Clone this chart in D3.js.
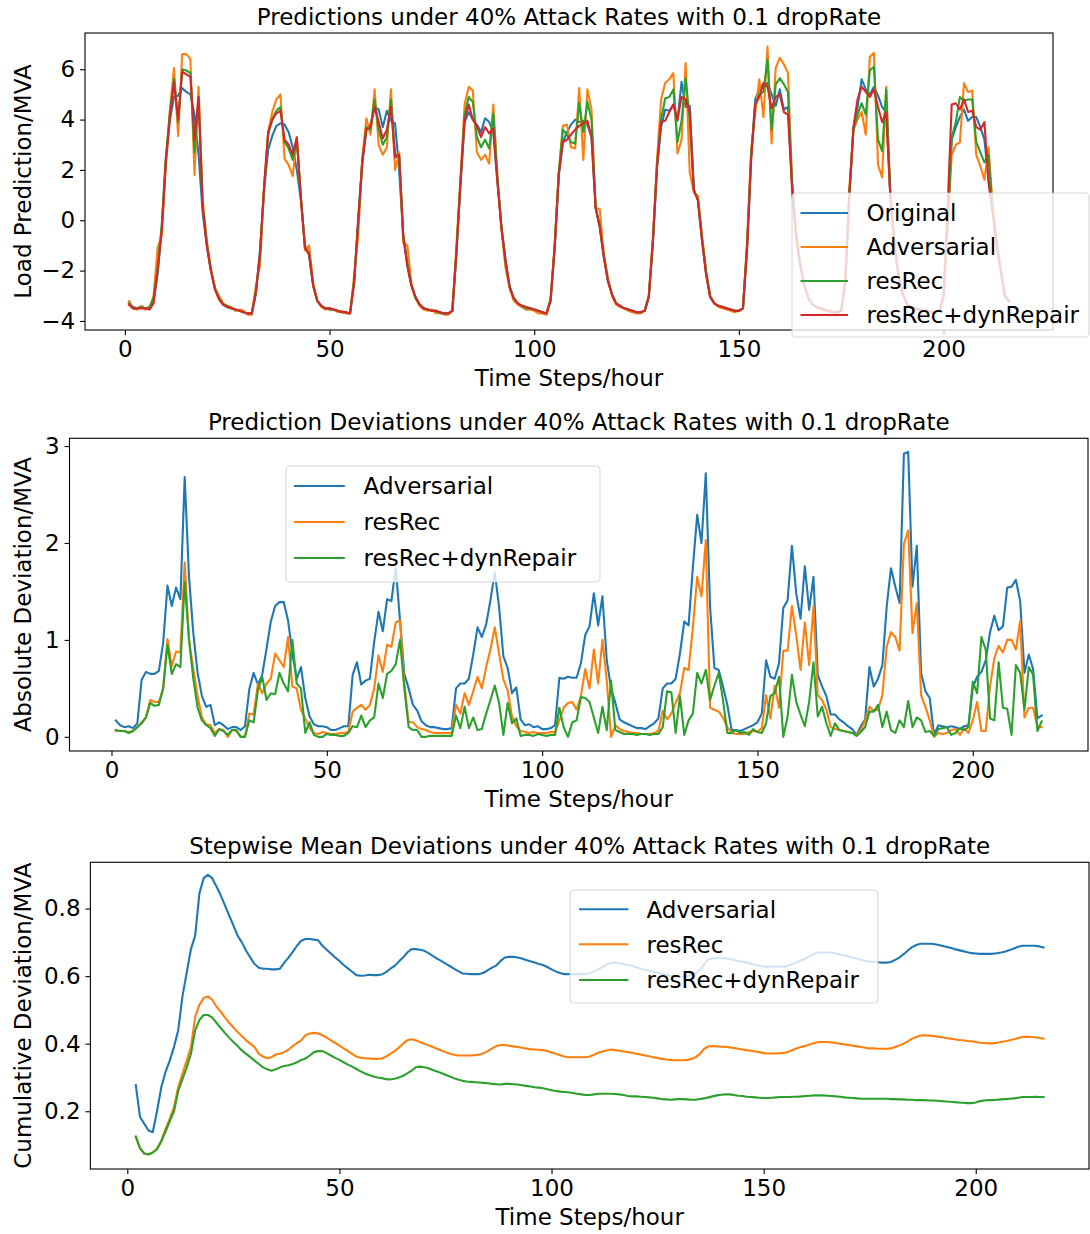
<!DOCTYPE html>
<html>
<head>
<meta charset="utf-8">
<script src="https://cdnjs.cloudflare.com/ajax/libs/d3/7.8.5/d3.min.js"></script>
<style>
body { margin: 0; background: #fff; }
svg text { font-family: "DejaVu Sans", sans-serif; fill: #000; }
</style>
</head>
<body>
<div id="chart"></div>
<script>
// time axis
const steps = d3.range(1, 217);
const cumSteps = d3.range(2, 217);
const xTicks = [0, 50, 100, 150, 200];
const yTicksPred = [-4, -2, 0, 2, 4, 6];
const yTicksDev = [0, 1, 2, 3];
const yTicksCum = [0.2, 0.4, 0.6, 0.8];

// panel 1: load predictions
const original = [-3.3,-3.45,-3.5,-3.45,-3.5,-3.5,-3.2,-2.1,-0.3,2.4,
  4.0,4.9,4.95,5.25,5.1,5.0,4.2,2.6,0.3,-1.0,
  -2.0,-2.7,-3.1,-3.35,-3.45,-3.5,-3.55,-3.6,-3.65,-3.7,
  -3.7,-2.9,-1.2,1.2,2.8,3.35,3.75,3.85,3.8,3.5,
  2.9,2.0,0.8,-1.0,-1.4,-2.6,-3.2,-3.4,-3.5,-3.5,
  -3.55,-3.6,-3.65,-3.65,-3.7,-2.5,0.1,2.3,3.6,3.8,
  4.5,4.4,3.7,4.35,3.95,3.85,2.0,-0.6,-1.8,-2.6,
  -3.05,-3.35,-3.5,-3.55,-3.6,-3.6,-3.65,-3.7,-3.7,-3.6,
  -1.3,1.5,3.9,4.3,4.0,3.8,3.5,4.05,3.9,3.5,
  1.6,-0.25,-1.6,-2.65,-3.1,-3.3,-3.4,-3.45,-3.5,-3.55,
  -3.6,-3.65,-3.7,-3.2,-1.1,1.8,3.1,3.5,3.8,4.0,
  3.9,3.95,3.8,3.3,0.5,-0.25,-1.45,-2.4,-2.95,-3.3,
  -3.4,-3.5,-3.55,-3.6,-3.65,-3.65,-3.6,-3.05,-0.85,2.1,
  3.7,4.4,4.35,4.6,3.95,5.5,4.5,4.55,1.2,0.8,
  -0.8,-2.15,-3.05,-3.3,-3.4,-3.45,-3.5,-3.55,-3.6,-3.6,
  -3.5,-1.05,2.5,4.8,5.2,5.4,5.45,5.0,4.55,5.2,
  4.4,4.5,1.3,-0.7,-1.8,-2.6,-3.1,-3.35,-3.45,-3.5,
  -3.55,-3.6,-3.65,-3.65,-3.6,-2.5,1.0,3.7,4.5,5.6,
  5.2,5.0,5.3,4.95,4.5,4.3,1.0,-1.0,-2.2,-2.9,
  -3.3,-3.45,-3.5,-3.55,-3.6,-3.6,-3.65,-3.65,-3.6,-3.0,
  -0.25,3.2,3.7,4.1,4.4,3.95,4.1,4.1,3.7,3.2,
  1.6,0.5,-1.0,-2.0,-3.05,-3.2];
const adversarial = [-3.2,-3.5,-3.55,-3.4,-3.55,-3.5,-3.0,-1.1,-0.6,2.2,
  4.4,6.05,3.35,6.6,6.6,6.4,1.8,5.3,0.8,-0.8,
  -1.9,-2.7,-3.0,-3.3,-3.4,-3.45,-3.6,-3.55,-3.6,-3.75,
  -3.75,-2.6,-1.8,1.3,3.5,4.3,4.8,5.0,2.45,2.2,
  1.75,3.3,0.9,-1.2,-1.0,-2.5,-3.2,-3.45,-3.55,-3.5,
  -3.55,-3.65,-3.6,-3.7,-3.7,-2.2,-0.6,2.5,4.05,3.4,
  5.2,3.0,2.6,2.9,5.2,2.0,2.7,-0.9,-1.0,-2.5,
  -3.1,-3.4,-3.55,-3.6,-3.55,-3.7,-3.65,-3.75,-3.75,-3.6,
  -1.0,1.7,4.6,5.3,5.15,2.7,2.4,2.6,2.25,4.6,
  1.8,-0.4,-1.9,-2.7,-3.2,-3.35,-3.45,-3.55,-3.55,-3.6,
  -3.7,-3.7,-3.75,-3.1,-1.0,1.9,3.75,3.8,2.9,2.85,
  5.25,2.4,5.2,4.4,0.5,0.45,-1.3,-2.3,-3.0,-3.35,
  -3.45,-3.5,-3.6,-3.65,-3.7,-3.7,-3.6,-3.0,-0.7,2.4,
  4.8,5.45,5.6,5.85,2.65,3.2,6.25,1.9,1.1,0.95,
  -0.6,-2.0,-3.0,-3.3,-3.45,-3.5,-3.55,-3.6,-3.65,-3.6,
  -3.5,-0.9,2.8,4.3,5.6,4.1,6.9,3.05,6.05,6.45,
  6.2,5.85,1.5,-0.4,-1.7,-2.6,-3.1,-3.35,-3.45,-3.55,
  -3.6,-3.6,-3.65,-3.7,-3.6,-2.3,1.3,3.6,4.0,4.3,
  3.4,6.5,6.65,2.2,1.7,5.3,1.0,-0.8,-2.1,-2.9,
  -3.3,-3.45,-3.5,-3.55,-3.6,-3.65,-3.6,-3.7,-3.6,-3.1,
  -0.3,2.6,3.0,3.1,5.45,5.1,5.15,2.6,2.15,1.6,
  2.9,0.6,-0.8,-2.0,-3.0,-3.25];
const resRec = [-3.3,-3.5,-3.5,-3.45,-3.5,-3.45,-3.1,-1.9,-0.2,2.5,
  4.3,5.6,3.9,6.0,5.95,5.85,2.7,4.8,0.6,-0.9,
  -2.0,-2.7,-3.1,-3.35,-3.4,-3.5,-3.55,-3.6,-3.65,-3.7,
  -3.7,-2.8,-1.4,1.3,3.4,4.0,4.35,4.5,3.1,2.85,
  2.4,3.2,0.9,-1.1,-1.3,-2.6,-3.2,-3.4,-3.5,-3.55,
  -3.55,-3.6,-3.65,-3.65,-3.7,-2.4,-0.1,2.4,3.7,3.6,
  4.8,3.6,3.0,3.3,4.8,2.6,2.6,-0.6,-1.7,-2.6,
  -3.1,-3.35,-3.5,-3.55,-3.6,-3.6,-3.7,-3.7,-3.7,-3.6,
  -1.2,1.6,4.2,4.9,4.7,3.3,2.9,3.2,2.85,4.25,
  1.7,-0.3,-1.7,-2.65,-3.1,-3.3,-3.4,-3.5,-3.5,-3.55,
  -3.6,-3.65,-3.7,-3.15,-1.0,1.85,3.6,3.4,3.1,3.05,
  4.65,3.5,4.7,4.0,0.5,-0.2,-1.4,-2.4,-2.95,-3.3,
  -3.4,-3.5,-3.55,-3.6,-3.65,-3.65,-3.6,-3.0,-0.8,2.2,
  4.0,4.85,4.9,5.2,3.1,3.95,5.65,4.0,1.2,0.8,
  -0.7,-2.1,-3.05,-3.3,-3.4,-3.45,-3.5,-3.55,-3.6,-3.6,
  -3.5,-1.0,2.6,4.6,5.0,5.1,6.4,3.6,5.4,5.65,
  5.4,5.1,1.5,-0.6,-1.8,-2.6,-3.1,-3.35,-3.45,-3.5,
  -3.55,-3.6,-3.65,-3.65,-3.6,-2.4,1.1,3.6,4.2,4.65,
  4.2,5.95,6.1,3.2,2.75,5.2,1.0,-0.9,-2.2,-2.9,
  -3.3,-3.45,-3.5,-3.55,-3.6,-3.6,-3.65,-3.65,-3.6,-3.0,
  -0.3,3.3,3.9,4.9,4.75,4.8,4.8,3.1,2.7,2.3,
  2.6,0.4,-1.0,-2.0,-3.0,-3.2];
const resRecDyn = [-3.35,-3.5,-3.5,-3.5,-3.5,-3.55,-3.3,-2.0,-0.4,2.3,
  4.1,5.5,4.0,5.9,5.8,5.7,3.2,4.9,0.5,-1.0,
  -2.0,-2.75,-3.15,-3.35,-3.45,-3.5,-3.55,-3.6,-3.65,-3.7,
  -3.7,-2.9,-1.3,1.3,3.5,4.0,4.25,4.35,3.2,3.0,
  2.6,3.3,0.85,-1.1,-1.35,-2.6,-3.2,-3.4,-3.5,-3.5,
  -3.55,-3.6,-3.65,-3.65,-3.7,-2.5,0.0,2.3,3.6,3.7,
  4.5,3.9,3.25,3.6,4.5,2.5,2.6,-0.6,-1.8,-2.6,
  -3.05,-3.35,-3.5,-3.55,-3.6,-3.6,-3.65,-3.7,-3.7,-3.6,
  -1.3,1.5,4.0,4.6,4.0,3.75,3.3,3.7,3.45,3.65,
  1.5,-0.3,-1.6,-2.65,-3.1,-3.3,-3.4,-3.45,-3.5,-3.55,
  -3.6,-3.65,-3.7,-3.2,-1.1,1.8,3.1,3.2,3.4,3.6,
  3.75,3.85,3.95,3.3,0.5,-0.25,-1.45,-2.4,-2.95,-3.3,
  -3.4,-3.5,-3.55,-3.6,-3.65,-3.65,-3.6,-3.05,-0.85,2.1,
  3.9,3.95,4.3,4.6,4.0,4.9,4.8,4.3,1.2,0.8,
  -0.8,-2.15,-3.05,-3.3,-3.4,-3.45,-3.5,-3.55,-3.6,-3.6,
  -3.5,-1.2,2.4,4.6,4.9,5.45,5.3,4.45,4.9,5.0,
  4.3,4.2,1.3,-0.7,-1.8,-2.6,-3.1,-3.35,-3.45,-3.5,
  -3.55,-3.6,-3.65,-3.65,-3.6,-2.5,1.0,3.7,4.8,5.3,
  5.1,4.9,5.2,4.5,3.9,4.3,1.0,-1.0,-2.2,-2.9,
  -3.3,-3.45,-3.5,-3.55,-3.6,-3.6,-3.65,-3.65,-3.6,-3.0,
  0.5,4.6,4.65,4.4,4.8,4.3,4.35,3.7,3.6,3.9,
  1.5,0.3,-1.0,-2.0,-3.0,-3.2];

// panel 2: absolute deviations
const devAdv = [0.17,0.12,0.1,0.11,0.09,0.14,0.59,0.67,0.65,0.65,
  0.68,0.97,1.56,1.35,1.54,1.42,2.68,1.65,1.07,0.66,
  0.42,0.31,0.33,0.12,0.15,0.12,0.08,0.1,0.1,0.07,
  0.11,0.49,0.66,0.54,0.64,0.91,1.19,1.35,1.39,1.39,
  1.2,0.86,0.6,0.72,0.4,0.21,0.13,0.11,0.11,0.1,
  0.07,0.07,0.09,0.11,0.11,0.64,0.77,0.54,0.58,0.6,
  0.98,1.29,1.09,1.42,1.4,1.75,1.2,0.65,0.5,0.33,
  0.27,0.16,0.12,0.1,0.1,0.09,0.08,0.08,0.09,0.5,
  0.55,0.55,0.6,0.85,1.13,1.03,1.16,1.41,1.7,1.34,
  0.83,0.71,0.45,0.51,0.18,0.12,0.13,0.1,0.11,0.08,
  0.08,0.09,0.12,0.61,0.6,0.62,0.61,0.61,0.76,1.05,
  1.14,1.48,1.15,1.45,0.79,0.5,0.35,0.18,0.15,0.13,
  0.11,0.09,0.09,0.08,0.11,0.14,0.19,0.5,0.55,0.55,
  0.6,0.86,1.19,1.15,1.75,2.29,2.0,2.72,1.34,0.71,
  0.69,0.52,0.33,0.07,0.07,0.06,0.08,0.1,0.12,0.15,
  0.24,0.79,0.62,0.6,0.76,1.33,1.41,1.97,1.48,1.22,
  1.76,1.31,1.65,0.64,0.52,0.42,0.23,0.23,0.18,0.15,
  0.11,0.08,0.02,0.11,0.18,0.72,0.52,0.6,0.74,1.34,
  1.74,1.55,1.38,2.92,2.94,1.55,1.97,0.66,0.47,0.4,
  0.02,0.12,0.11,0.1,0.11,0.1,0.08,0.11,0.12,0.51,
  0.62,0.67,0.79,1.08,1.25,1.1,1.14,1.54,1.55,1.62,
  1.4,0.66,0.85,0.7,0.19,0.22];
const devRes = [0.06,0.06,0.06,0.05,0.06,0.1,0.15,0.2,0.38,0.36,
  0.36,0.5,1.01,0.73,0.88,0.87,1.8,1.0,0.7,0.42,
  0.2,0.13,0.12,0.04,0.08,0.07,0.0,0.07,0.06,0.0,
  0.0,0.24,0.23,0.55,0.45,0.55,0.6,0.86,0.79,0.72,
  1.03,0.52,0.5,0.28,0.19,0.09,0.04,0.03,0.05,0.04,
  0.03,0.03,0.04,0.04,0.05,0.26,0.3,0.33,0.28,0.33,
  0.5,0.84,0.67,0.95,0.93,1.18,1.2,0.55,0.15,0.15,
  0.1,0.08,0.07,0.05,0.04,0.04,0.04,0.04,0.04,0.33,
  0.24,0.45,0.33,0.47,0.62,0.5,0.72,0.9,1.13,0.86,
  0.59,0.48,0.21,0.11,0.06,0.05,0.04,0.05,0.04,0.04,
  0.04,0.05,0.05,0.17,0.3,0.35,0.36,0.28,0.42,0.7,
  0.5,0.9,0.55,1.0,0.58,0.0,0.12,0.08,0.06,0.05,
  0.04,0.04,0.03,0.03,0.03,0.04,0.06,0.27,0.18,0.24,
  0.35,0.45,0.71,0.69,1.13,1.65,1.45,2.03,0.3,0.28,
  0.26,0.2,0.1,0.04,0.03,0.03,0.03,0.05,0.06,0.05,
  0.09,0.43,0.19,0.53,0.3,0.89,0.89,1.35,1.05,0.69,
  1.18,0.74,1.35,0.43,0.38,0.28,0.1,0.08,0.07,0.06,
  0.05,0.04,0.02,0.07,0.17,0.31,0.27,0.28,0.43,0.93,
  1.08,1.03,0.89,1.99,2.13,1.07,1.38,0.43,0.31,0.17,
  0.0,0.04,0.03,0.04,0.07,0.08,0.02,0.09,0.04,0.17,
  0.36,0.06,0.06,0.52,0.81,0.94,0.87,1.0,1.0,0.9,
  1.2,0.2,0.3,0.3,0.11,0.1];
const devResDyn = [0.07,0.06,0.06,0.04,0.06,0.1,0.14,0.2,0.35,0.32,
  0.33,0.5,0.95,0.65,0.75,0.72,1.6,1.0,0.6,0.3,
  0.17,0.12,0.09,0.01,0.08,0.06,0.02,0.07,0.07,0.0,
  0.0,0.17,0.15,0.48,0.62,0.38,0.45,0.44,0.66,0.55,
  0.47,1.0,0.55,0.5,0.04,0.15,0.02,0.0,0.0,0.03,
  0.02,0.02,0.01,0.01,0.04,0.11,0.1,0.22,0.1,0.17,
  0.2,0.55,0.4,0.65,0.68,0.75,1.0,0.5,0.1,0.07,
  0.07,0.0,0.0,0.01,0.01,0.01,0.01,0.01,0.01,0.22,
  0.09,0.31,0.09,0.2,0.07,0.08,0.24,0.38,0.53,0.35,
  0.02,0.35,0.14,0.19,0.01,0.02,0.02,0.01,0.03,0.02,
  0.01,0.02,0.02,0.3,0.1,0.0,0.15,0.17,0.41,0.4,
  0.36,0.2,0.04,0.31,0.07,0.58,0.07,0.05,0.03,0.03,
  0.03,0.02,0.03,0.03,0.02,0.03,0.03,0.1,0.47,0.46,
  0.04,0.42,0.02,0.17,0.24,0.66,0.55,0.69,0.38,0.53,
  0.66,0.38,0.04,0.04,0.07,0.04,0.05,0.02,0.08,0.05,
  0.04,0.14,0.42,0.45,0.62,0.0,0.21,0.64,0.36,0.23,
  0.11,0.36,0.77,0.21,0.31,0.14,0.01,0.14,0.07,0.06,
  0.05,0.04,0.01,0.05,0.1,0.26,0.26,0.33,0.1,0.26,
  0.07,0.04,0.17,0.1,0.37,0.1,0.2,0.17,0.05,0.06,
  0.01,0.08,0.09,0.1,0.02,0.04,0.09,0.07,0.1,0.57,
  0.45,1.03,0.9,0.19,0.17,0.77,0.3,0.29,0.02,0.74,
  0.66,0.28,0.72,0.64,0.06,0.16];

// panel 3: stepwise mean deviations (from step 2)
const cumAdv = [0.277,0.183,0.163,0.143,0.138,0.2,0.27,0.316,0.35,0.39,
  0.44,0.54,0.61,0.68,0.72,0.845,0.89,0.9,0.89,0.866,
  0.84,0.81,0.78,0.75,0.72,0.7,0.675,0.655,0.636,0.625,
  0.622,0.622,0.62,0.62,0.622,0.64,0.655,0.672,0.69,0.705,
  0.71,0.71,0.708,0.706,0.69,0.678,0.667,0.655,0.645,0.633,
  0.623,0.613,0.603,0.601,0.602,0.604,0.603,0.603,0.605,0.612,
  0.622,0.63,0.643,0.655,0.67,0.68,0.68,0.678,0.675,0.668,
  0.66,0.652,0.645,0.637,0.63,0.622,0.615,0.608,0.607,0.606,
  0.606,0.606,0.61,0.618,0.625,0.632,0.645,0.655,0.657,0.657,
  0.655,0.652,0.648,0.644,0.64,0.636,0.633,0.627,0.62,0.614,
  0.609,0.606,0.606,0.606,0.606,0.606,0.606,0.608,0.614,0.62,
  0.627,0.634,0.64,0.64,0.638,0.635,0.633,0.63,0.626,0.622,
  0.619,0.616,0.613,0.61,0.607,0.604,0.601,0.599,0.598,0.598,
  0.6,0.604,0.608,0.618,0.635,0.65,0.653,0.653,0.653,0.653,
  0.651,0.648,0.645,0.643,0.64,0.637,0.634,0.631,0.628,0.628,
  0.628,0.628,0.628,0.628,0.632,0.637,0.642,0.648,0.653,0.66,
  0.666,0.67,0.67,0.67,0.669,0.667,0.664,0.661,0.658,0.655,
  0.652,0.648,0.645,0.643,0.642,0.641,0.64,0.64,0.642,0.648,
  0.655,0.665,0.676,0.686,0.692,0.696,0.696,0.696,0.695,0.693,
  0.69,0.687,0.684,0.68,0.677,0.674,0.671,0.668,0.667,0.666,
  0.666,0.666,0.666,0.668,0.67,0.673,0.677,0.682,0.687,0.69,
  0.69,0.69,0.69,0.688,0.685];
const cumRes = [0.125,0.09,0.075,0.072,0.078,0.088,0.113,0.148,0.178,0.212,
  0.271,0.311,0.35,0.39,0.48,0.515,0.535,0.54,0.53,0.51,
  0.495,0.478,0.462,0.448,0.435,0.422,0.41,0.4,0.39,0.37,
  0.362,0.357,0.36,0.368,0.37,0.375,0.382,0.393,0.402,0.41,
  0.425,0.43,0.432,0.43,0.425,0.418,0.41,0.402,0.394,0.386,
  0.378,0.37,0.362,0.358,0.357,0.356,0.355,0.355,0.356,0.362,
  0.37,0.378,0.388,0.4,0.41,0.413,0.41,0.405,0.4,0.395,
  0.39,0.385,0.38,0.375,0.37,0.367,0.365,0.365,0.365,0.365,
  0.366,0.368,0.372,0.378,0.386,0.393,0.396,0.396,0.394,0.392,
  0.39,0.388,0.386,0.384,0.383,0.382,0.381,0.378,0.374,0.37,
  0.366,0.362,0.36,0.36,0.36,0.36,0.36,0.362,0.367,0.373,
  0.377,0.38,0.383,0.381,0.379,0.377,0.375,0.373,0.37,0.368,
  0.365,0.363,0.36,0.358,0.355,0.353,0.352,0.351,0.351,0.351,
  0.352,0.355,0.36,0.37,0.385,0.392,0.393,0.392,0.391,0.391,
  0.389,0.387,0.385,0.383,0.381,0.379,0.377,0.375,0.372,0.371,
  0.371,0.371,0.372,0.373,0.377,0.382,0.387,0.391,0.394,0.398,
  0.402,0.405,0.405,0.405,0.404,0.402,0.4,0.398,0.396,0.394,
  0.392,0.39,0.388,0.386,0.386,0.385,0.385,0.385,0.386,0.39,
  0.395,0.4,0.407,0.415,0.42,0.424,0.425,0.424,0.423,0.421,
  0.419,0.417,0.415,0.413,0.411,0.41,0.408,0.407,0.405,0.403,
  0.402,0.401,0.401,0.403,0.405,0.407,0.41,0.413,0.417,0.42,
  0.421,0.42,0.419,0.417,0.415];
const cumResDyn = [0.125,0.09,0.075,0.072,0.078,0.088,0.11,0.14,0.17,0.2,
  0.26,0.295,0.33,0.37,0.44,0.47,0.485,0.485,0.478,0.462,
  0.447,0.432,0.418,0.405,0.393,0.38,0.37,0.36,0.35,0.34,
  0.33,0.324,0.32,0.324,0.33,0.334,0.336,0.34,0.345,0.352,
  0.356,0.365,0.375,0.378,0.378,0.372,0.365,0.358,0.352,0.345,
  0.338,0.332,0.325,0.318,0.312,0.307,0.303,0.3,0.298,0.295,
  0.294,0.296,0.3,0.305,0.312,0.32,0.33,0.332,0.33,0.327,
  0.322,0.318,0.313,0.308,0.303,0.298,0.294,0.29,0.288,0.287,
  0.286,0.285,0.284,0.283,0.281,0.28,0.279,0.281,0.281,0.28,
  0.279,0.277,0.275,0.273,0.271,0.27,0.268,0.265,0.262,0.26,
  0.258,0.257,0.256,0.254,0.252,0.25,0.248,0.248,0.25,0.252,
  0.252,0.252,0.252,0.251,0.25,0.248,0.245,0.244,0.244,0.243,
  0.242,0.241,0.24,0.238,0.236,0.235,0.234,0.235,0.236,0.236,
  0.235,0.234,0.234,0.236,0.238,0.241,0.244,0.247,0.249,0.25,
  0.25,0.248,0.246,0.245,0.243,0.242,0.241,0.24,0.239,0.239,
  0.24,0.241,0.242,0.242,0.242,0.243,0.243,0.244,0.245,0.246,
  0.247,0.247,0.247,0.246,0.245,0.244,0.243,0.241,0.24,0.239,
  0.238,0.237,0.237,0.237,0.237,0.237,0.237,0.237,0.236,0.236,
  0.235,0.235,0.234,0.234,0.233,0.233,0.233,0.232,0.232,0.231,
  0.23,0.229,0.228,0.227,0.226,0.225,0.224,0.224,0.226,0.23,
  0.232,0.233,0.233,0.234,0.235,0.236,0.237,0.238,0.24,0.242,
  0.242,0.242,0.243,0.242,0.242];

const blue = "#1f77b4", orange = "#ff7f0e", green = "#2ca02c", red = "#d62728";
const fontSize = 23;

const svg = d3.select("#chart").append("svg")
  .attr("width", 1090)
  .attr("height", 1234);

const panels = [
  {
    box: {left: 85, right: 1053, top: 33, bottom: 330},
    xDomain: [-9.75, 226.75],
    yDomain: [-4.36, 7.44], yTicks: yTicksPred, yFormat: d3.format("d"),
    title: "Predictions under 40% Attack Rates with 0.1 dropRate",
    ylabel: "Load Prediction/MVA",
    series: [
      {name: "Original", xs: steps, ys: original, color: blue},
      {name: "Adversarial", xs: steps, ys: adversarial, color: orange},
      {name: "resRec", xs: steps, ys: resRec, color: green},
      {name: "resRec+dynRepair", xs: steps, ys: resRecDyn, color: red}
    ],
    legend: {left: 792, right: 1089, top: 193, bottom: 337, rows: [213, 247, 281, 315], line: [800.5, 848], text: 866.5}
  },
  {
    box: {left: 69.5, right: 1088, top: 438.3, bottom: 751},
    xDomain: [-9.75, 226.75],
    yDomain: [-0.146, 3.08], yTicks: yTicksDev, yFormat: d3.format("d"),
    title: "Prediction Deviations under 40% Attack Rates with 0.1 dropRate",
    ylabel: "Absolute Deviation/MVA",
    series: [
      {name: "Adversarial", xs: steps, ys: devAdv, color: blue},
      {name: "resRec", xs: steps, ys: devRes, color: orange},
      {name: "resRec+dynRepair", xs: steps, ys: devResDyn, color: green}
    ],
    legend: {left: 286, right: 600, top: 466, bottom: 582, rows: [486, 522, 558], line: [294, 344.8], text: 363.6}
  },
  {
    box: {left: 90.4, right: 1089, top: 862.3, bottom: 1169},
    xDomain: [-8.7, 226.7],
    yDomain: [0.029, 0.937], yTicks: yTicksCum, yFormat: d3.format(".1f"),
    title: "Stepwise Mean Deviations under 40% Attack Rates with 0.1 dropRate",
    ylabel: "Cumulative Deviation/MVA",
    series: [
      {name: "Adversarial", xs: cumSteps, ys: cumAdv, color: blue},
      {name: "resRec", xs: cumSteps, ys: cumRes, color: orange},
      {name: "resRec+dynRepair", xs: cumSteps, ys: cumResDyn, color: green}
    ],
    legend: {left: 570, right: 878, top: 890, bottom: 1003, rows: [909.3, 944.3, 980], line: [579, 628.4], text: 646.5}
  }
];

function drawPanel(p) {
  const b = p.box;
  const x = d3.scaleLinear().domain(p.xDomain).range([b.left, b.right]);
  const y = d3.scaleLinear().domain(p.yDomain).range([b.bottom, b.top]);
  const g = svg.append("g");

  // lines
  p.series.forEach(function(s) {
    const line = d3.line()
      .x(function(d, i) { return x(s.xs[i]); })
      .y(function(d) { return y(d); });
    g.append("path")
      .datum(s.ys)
      .attr("fill", "none")
      .attr("stroke", s.color)
      .attr("stroke-width", 2.1)
      .attr("stroke-linejoin", "round")
      .attr("stroke-linecap", "square")
      .attr("d", line);
  });

  // spines
  g.append("rect")
    .attr("x", b.left).attr("y", b.top)
    .attr("width", b.right - b.left).attr("height", b.bottom - b.top)
    .attr("fill", "none").attr("stroke", "#000").attr("stroke-width", 1.1);

  const xAxis = d3.axisBottom(x).tickValues(xTicks).tickSize(4.9).tickPadding(6).tickSizeOuter(0);
  const yAxis = d3.axisLeft(y).tickValues(p.yTicks).tickFormat(p.yFormat).tickSize(4.9).tickPadding(5).tickSizeOuter(0);

  const gx = g.append("g").attr("transform", "translate(0," + b.bottom + ")").call(xAxis);
  const gy = g.append("g").attr("transform", "translate(" + b.left + ",0)").call(yAxis);
  [gx, gy].forEach(function(a) {
    a.select(".domain").remove();
    a.selectAll("line").attr("stroke", "#000").attr("stroke-width", 1.1);
    a.selectAll("text").attr("font-size", fontSize).attr("font-family", "DejaVu Sans").attr("fill", "#000");
  });

  // title and labels
  const cx = (b.left + b.right) / 2;
  g.append("text")
    .attr("x", cx).attr("y", b.top - 8.3)
    .attr("text-anchor", "middle").attr("font-size", fontSize)
    .text(p.title);
  g.append("text")
    .attr("x", cx).attr("y", b.bottom + 56)
    .attr("text-anchor", "middle").attr("font-size", fontSize)
    .text("Time Steps/hour");
  g.append("text")
    .attr("transform", "translate(30.5," + (b.top + b.bottom) / 2 + ") rotate(-90)")
    .attr("text-anchor", "middle").attr("font-size", fontSize)
    .text(p.ylabel);

  // legend
  const L = p.legend;
  g.append("rect")
    .attr("x", L.left).attr("y", L.top)
    .attr("width", L.right - L.left).attr("height", L.bottom - L.top)
    .attr("rx", 4).attr("ry", 4)
    .attr("fill", "#fff").attr("fill-opacity", 0.8)
    .attr("stroke", "#cccccc").attr("stroke-opacity", 0.8).attr("stroke-width", 1.1);
  p.series.forEach(function(s, i) {
    g.append("line")
      .attr("x1", L.line[0]).attr("x2", L.line[1])
      .attr("y1", L.rows[i]).attr("y2", L.rows[i])
      .attr("stroke", s.color).attr("stroke-width", 2.1);
    g.append("text")
      .attr("x", L.text).attr("y", L.rows[i])
      .attr("dy", "0.36em").attr("font-size", fontSize)
      .text(s.name);
  });
}

panels.forEach(drawPanel);
</script>
</body>
</html>
